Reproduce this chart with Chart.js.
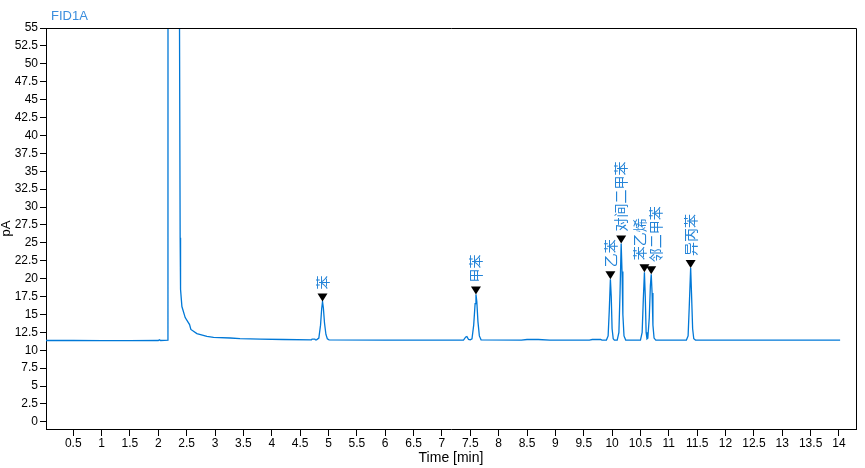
<!DOCTYPE html>
<html><head><meta charset="utf-8">
<script src="https://cdn.jsdelivr.net/npm/chart.js@4"></script>
<style>html,body{margin:0;padding:0;background:#fff}</style>
</head><body>
<canvas id="c" width="865" height="468" style="display:block;width:865px;height:468px"></canvas>
<script>
const seriesName = "FID1A";
const xTitle = "Time [min]";
const yTitle = "pA";

const traceTime = [
  0.02, 0.5, 1.0, 1.5, 2.0, 2.02, 2.04, 2.17, 2.175, 2.365, 2.372, 2.385, 2.392, 2.416, 2.474, 2.551, 2.574, 2.68, 2.857, 2.974, 3.27, 3.44, 3.8, 4.2, 4.7, 4.71, 4.76, 4.77, 4.79,
  4.83, 4.86, 4.88, 4.895, 4.91, 4.93, 4.955, 4.98, 5.01,
  6.0, 7.38, 7.42, 7.44, 7.47, 7.50,
  7.53, 7.56, 7.585, 7.60, 7.615, 7.635, 7.66, 7.69,
  8.4, 8.5, 8.7, 8.9, 9.6, 9.65, 9.8, 9.82,
  9.90, 9.93, 9.95, 9.97, 9.985, 10.0, 10.02, 10.04,
  10.09, 10.12, 10.14, 10.16, 10.175, 10.19, 10.21, 10.24,
  10.50, 10.53, 10.55, 10.57, 10.585, 10.60, 10.615, 10.63,
  10.655, 10.675, 10.69, 10.705, 10.72, 10.74, 10.77,
  11.31, 11.34, 11.36, 11.385, 11.40, 11.42, 11.44, 11.47,
  12.0, 13.0, 14.02
];
const traceSignal = [
  11.36, 11.36, 11.35, 11.35, 11.36, 11.45, 11.36, 11.4, 300, 300, 60, 25.7, 18.5, 16.1, 14.56, 13.58, 12.9, 12.32, 11.94, 11.8, 11.71, 11.62, 11.55, 11.5, 11.45, 11.55, 11.55, 11.45, 11.45,
  11.7, 13.5, 15.8, 16.8, 15.9, 13.8, 12.2, 11.6, 11.45,
  11.42, 11.42, 11.85, 11.9, 11.5, 11.45,
  11.6, 13.5, 16.5, 17.8, 16.8, 14.0, 12.0, 11.45,
  11.42, 11.5, 11.5, 11.42, 11.42, 11.5, 11.5, 11.42,
  11.42, 12.0, 15.5, 19.9, 17.5, 13.0, 11.6, 11.42,
  11.42, 12.5, 18.0, 24.9, 21.0, 15.0, 12.0, 11.42,
  11.42, 12.5, 17.0, 20.9, 17.5, 12.5, 11.6, 11.7,
  14.5, 19.0, 20.6, 18.0, 13.5, 11.7, 11.42,
  11.42, 12.0, 16.0, 21.5, 18.0, 13.0, 11.6, 11.42,
  11.42, 11.42, 11.42
];

const peakNames = ["苯", "甲苯", "乙苯", "对间二甲苯", "苯乙烯", "邻二甲苯", "异丙苯"];
const peakTimes = [4.895, 7.60, 9.97, 10.16, 10.57, 10.69, 11.385];
const peakHeights = [16.8, 17.8, 19.9, 24.9, 20.9, 20.6, 21.5];

const xTickValues = [0.5,1,1.5,2,2.5,3,3.5,4,4.5,5,5.5,6,6.5,7,7.5,8,8.5,9,9.5,10,10.5,11,11.5,12,12.5,13,13.5,14];
const yTickValues = [0,2.5,5,7.5,10,12.5,15,17.5,20,22.5,25,27.5,30,32.5,35,37.5,40,42.5,45,47.5,50,52.5,55];

const LINE_COLOR = '#0078D7';
const LABEL_COLOR = '#2484d8';
const FONT = '"Liberation Sans", Arial, sans-serif';

const points = traceTime.map((t, i) => ({x: t, y: traceSignal[i]}));

const peakPlugin = {
  id: 'peaks',
  afterDraw(chart) {
    const {ctx, chartArea: ca, scales: {x, y}} = chart;
    ctx.save();
    // frame top & right
    ctx.strokeStyle = '#000';
    ctx.lineWidth = 1;
    ctx.beginPath();
    ctx.moveTo(ca.left, Math.round(ca.top) + 0.5);
    ctx.lineTo(Math.round(ca.right) + 0.5, Math.round(ca.top) + 0.5);
    ctx.lineTo(Math.round(ca.right) + 0.5, ca.bottom);
    ctx.stroke();

    // series title
    ctx.fillStyle = '#3b8ede';
    ctx.font = '13px ' + FONT;
    ctx.textAlign = 'left';
    ctx.textBaseline = 'middle';
    ctx.fillText(seriesName, ca.left + 5, 16);

    // markers and labels
    const fs = 14;
    const labelFont = fs + 'px "Noto Sans CJK SC", sans-serif';
    ctx.font = labelFont;
    const items = peakTimes.map((t, i) => {
      const px = x.getPixelForValue(t);
      const py = y.getPixelForValue(peakHeights[i]);
      const triTop = py - 8;
      const start = triTop - 4;
      const w = ctx.measureText(peakNames[i]).width;
      return {px, py, lx: px, start, end: start - w, name: peakNames[i]};
    });
    for (let i = 1; i < items.length; i++) {
      const a = items[i - 1], b = items[i];
      const overlapV = !(a.end > b.start || b.end > a.start);
      if (overlapV && Math.abs(b.lx - a.lx) < fs + 2) {
        const mid = (a.px + b.px) / 2;
        a.lx = mid - (fs + 2) / 2;
        b.lx = mid + (fs + 2) / 2;
      }
    }
    items.forEach(it => {
      ctx.fillStyle = '#000';
      ctx.beginPath();
      ctx.moveTo(it.px - 5, it.py - 8);
      ctx.lineTo(it.px + 5, it.py - 8);
      ctx.lineTo(it.px, it.py);
      ctx.closePath();
      ctx.fill();
      ctx.save();
      ctx.translate(it.lx, it.start);
      ctx.rotate(-Math.PI / 2);
      ctx.fillStyle = LABEL_COLOR;
      ctx.font = labelFont;
      ctx.textAlign = 'left';
      ctx.textBaseline = 'middle';
      ctx.fillText(it.name, 0, 0);
      ctx.restore();
    });
    ctx.restore();
  }
};

new Chart(document.getElementById('c'), {
  type: 'line',
  data: {
    datasets: [{
      label: seriesName,
      data: points,
      borderColor: LINE_COLOR,
      borderWidth: 1.3,
      pointRadius: 0,
      tension: 0,
      fill: false
    }]
  },
  options: {
    responsive: false,
    animation: false,
    devicePixelRatio: 1,
    layout: {padding: {top: 28, right: 9, left: 0, bottom: 0}},
    plugins: {legend: {display: false}, tooltip: {enabled: false}, title: {display: false}},
    scales: {
      x: {
        type: 'linear',
        min: 0.02,
        max: 14.3,
        afterBuildTicks: s => { s.ticks = xTickValues.map(v => ({value: v})); },
        afterFit: s => { s.height = 39; },
        ticks: {
          autoSkip: false, maxRotation: 0, padding: 0,
          color: '#000', font: {family: FONT, size: 12},
          callback: v => String(v)
        },
        grid: {display: true, drawOnChartArea: false, drawTicks: true, tickLength: 7, color: '#000', lineWidth: 1},
        border: {display: true, color: '#000', width: 1},
        title: {display: true, text: xTitle, color: '#000', font: {family: FONT, size: 14}, padding: {top: 0, bottom: 1}}
      },
      y: {
        type: 'linear',
        min: -1,
        max: 55,
        afterBuildTicks: s => { s.ticks = yTickValues.map(v => ({value: v})); },
        afterFit: s => { s.width = 46; },
        ticks: {
          autoSkip: false, padding: 2,
          color: '#000', font: {family: FONT, size: 12},
          callback: v => String(v)
        },
        grid: {display: true, drawOnChartArea: false, drawTicks: true, tickLength: 6, color: '#000', lineWidth: 1},
        border: {display: true, color: '#000', width: 1},
        title: {display: true, text: yTitle, color: '#000', font: {family: FONT, size: 13, lineHeight: 1}, padding: {top: 0, bottom: 0}}
      }
    }
  },
  plugins: [peakPlugin]
});
</script>
</body></html>
